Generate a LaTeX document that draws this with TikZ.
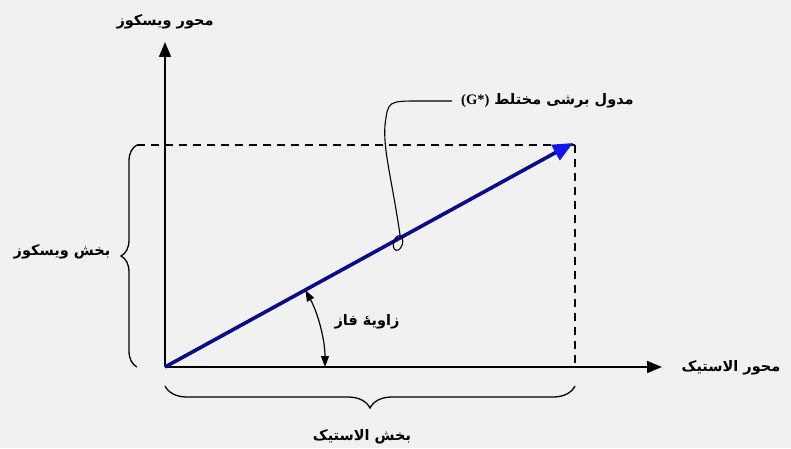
\documentclass[tikz,border=0pt]{standalone}
\usepackage{fontspec}
\newfontfamily\arabicfont[Script=Arabic]{DejaVu Sans}
\newfontfamily\serifb{Liberation Serif}
\TeXXeTstate=1
\usetikzlibrary{arrows.meta,decorations.pathreplacing,shapes.geometric}
\definecolor{bg}{RGB}{241,241,241}
\definecolor{vec}{RGB}{10,10,140}
\definecolor{vhead}{RGB}{20,20,235}
\tikzset{
  axis/.style={line width=1.8pt,-{Triangle[length=15pt,width=12pt]}},
  guide/.style={line width=1.4pt,dash pattern=on 8pt off 6pt},
  lbl/.style={font=\arabicfont\bfseries\fontsize{14.5}{16}\selectfont,inner sep=1pt},
  bracestyle/.style={line width=1.3pt,decorate},
}
\begin{document}
\begin{tikzpicture}[x=1pt,y=1pt]
\fill[bg] (0,0) rectangle (791,448);
\useasboundingbox (0,0) rectangle (791,448);
\coordinate (O) at (165,81);
\coordinate (Ytip) at (165,406);
\coordinate (Xtip) at (662,81);
\coordinate (V) at (573,305);
\coordinate (C) at (575,303);
\coordinate (CL) at (137,303);
\coordinate (CB) at (575,81);
% axes
\draw[axis] (O) -- (Ytip);
\draw[axis] (O) -- (Xtip);
% dashed guides
\draw[guide] (CL) -- (C);
\draw[guide] (C) -- (CB);
% vector
\draw[line width=3.6pt,vec,-{Triangle[length=20pt,width=17pt,fill=vhead,color=vhead]}] (O) -- (V);
% angle arc
\draw[line width=1.2pt,{Triangle[length=11pt,width=8pt]}-{Triangle[length=11pt,width=8pt]}] ([shift={(28.7:160)}]O) arc[start angle=28.7,end angle=0,radius=160];
% braces
\draw[bracestyle,decoration={brace,amplitude=16pt,raise=0pt}] (137,81) -- (137,303);
\draw[bracestyle,decoration={brace,amplitude=22pt,mirror}] (165,62) -- (575,62);
% callout
\node[draw,line width=1.1pt,ellipse,minimum width=9pt,minimum height=15pt,inner sep=0pt,rotate=-15] (E) at (398,205) {};
\coordinate (T) at (452,347);
\draw[line width=1.1pt] (E.north) .. controls (392,268) and (383,298) .. (385,323) .. controls (388,347) .. (420,347) -- (T);
% labels
\node[lbl] (ly) at (165,426) {\beginR محور ویسکوز\endR};
\node[lbl] (lx) at (731,80) {\beginR محور الاستیک\endR};
\node[lbl] (lv) at (62,196) {\beginR بخش ویسکوز\endR};
\node[lbl] (le) at (362,11) {\beginR بخش الاستیک\endR};
\node[lbl] (lp) at (367,126) {\beginR زاویهٔ فاز\endR};
\node[lbl,anchor=west] (lg) at (460,347) {{\serifb\bfseries (G*)} \beginR مدول برشی مختلط\endR};
\end{tikzpicture}
\end{document}
